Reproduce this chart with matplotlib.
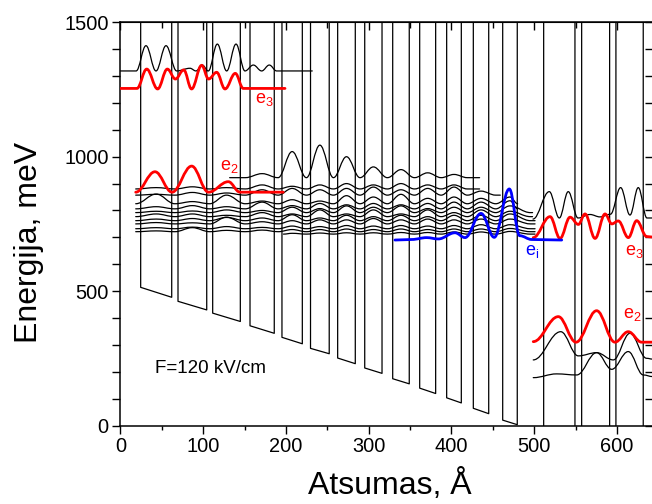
import matplotlib
matplotlib.use('Agg')
import matplotlib.pyplot as plt
from matplotlib.path import Path
from matplotlib.patches import PathPatch
from matplotlib.ticker import MultipleLocator, NullFormatter

plt.rcParams['font.family'] = ['Liberation Sans', 'DejaVu Sans']
plt.rcParams['mathtext.fontset'] = 'custom'
plt.rcParams['mathtext.rm'] = 'Liberation Sans'

# quantum wells: edges (A) and conduction band bottom at the edges (meV)
well_left = [24.5, 69.6, 111.5, 156.6, 195.2, 229.7, 262.5, 295.2, 329.0, 361.6,
             394.2, 426.4, 461.9, 511.4, 557.3, 598.7]
well_right = [62.0, 104.3, 144.9, 185.9, 219.8, 252.3, 283.8, 316.1, 349.0, 380.9,
              411.9, 445.0, 479.5, 549.2, 591.1, 631.7]
bottom_left = [514, 462, 418, 371, 328, 287, 251, 214, 174, 139, 103, 64, 20, -33, -85, -131]
bottom_right = [477, 430, 387, 343, 304, 267, 230, 194, 155, 119, 84, 44, 3, -76, -123, -167]
barrier_top = 1700

# injector states: level (meV), start / end (A), peak height in wells 1..13 (meV)
inj_level = [922, 880, 857, 825, 806, 792, 777, 762, 750, 732, 721, 712]
inj_start = [132, 18.5, 18.5, 18.5, 18.5, 18.5, 18.5, 18.5, 18.5, 18.5, 18.5, 197]
inj_end = [434, 434, 459, 480, 480, 498, 498, 501, 501, 501, 501, 501]
inj_peaks = [
    [0, 0, 0, 15, 97, 121, 78, 40, 30, 18, 12, 0, 0],
    [5, 8, 5, 15, 10, 15, 20, 15, 20, 15, 15, 10, 0],
    [3, 10, 8, 20, 25, 20, 25, 30, 20, 25, 30, 15, 0],
    [36, 8, 32, 10, 15, 10, 30, 25, 35, 20, 25, 20, 25],
    [8, 12, 8, 25, 12, 20, 15, 20, 15, 20, 25, 25, 30],
    [5, 6, 10, 8, 20, 15, 25, 20, 25, 15, 20, 20, 25],
    [10, 10, 5, 15, 10, 25, 10, 25, 10, 25, 15, 25, 20],
    [6, 8, 12, 10, 22, 10, 20, 15, 20, 15, 20, 20, 25],
    [5, 4, 25, 8, 12, 15, 15, 20, 15, 18, 15, 18, 18],
    [4, 6, 8, 5, 10, 8, 12, 10, 12, 10, 12, 15, 15],
    [3, 15, 5, 6, 8, 8, 10, 8, 10, 8, 10, 10, 12],
    [0, 0, 0, 0, 3, 4, 5, 5, 6, 6, 8, 8, 10],
]

# upper state, left (black) and e3 (red)
top_x = [0, 19, 30.9, 43, 55.1, 68, 84.1, 91.3, 98.9, 106.2, 117.1, 128.4, 139.7, 150.5,
         160.6, 170.7, 179.9, 188.8, 231.8]
top_e = [1319, 1319, 1413, 1319, 1413, 1319, 1329, 1319, 1341, 1319, 1419, 1319, 1419, 1319,
         1341, 1319, 1341, 1319, 1319]
e3l_x = [0, 20, 31.8, 45, 56.7, 66.5, 76.5, 86, 98.2, 106.5, 116.3, 126.4, 138.8, 148.5, 198.9]
e3l_e = [1254, 1254, 1326, 1252, 1326, 1289, 1323, 1252, 1340, 1289, 1314, 1252, 1310, 1254, 1254]
# e2, left
e2l_x = [18.5, 41.8, 62.4, 86.1, 106.5, 130.4, 144.5, 196.8]
e2l_e = [868, 944, 868, 965, 868, 907, 868, 868]
# injector ground state ei
ei_x = [331.7, 352, 370.1, 384.1, 404.3, 416.4, 435.7, 451.7, 469.9, 482.5, 497, 533.2]
ei_e = [690, 692, 699, 694, 717, 699, 789, 700, 880, 706, 692, 690]
# active region on the right
e3r_x = [498.8, 519.1, 531.2, 543.3, 553.3, 561.4, 573.5, 585.6, 593.7, 601.6, 613.7, 623.8,
         635.9, 643]
e3r_e = [699, 777, 696, 775, 748, 787, 696, 787, 750, 761, 699, 762, 703, 701]
upr_x = [498.5, 518.2, 530.3, 541.1, 552.9, 567.4, 579.5, 592.1, 604.4, 615.7, 625.7, 636.2, 643]
upr_e = [768, 870, 772, 870, 772, 785, 776, 786, 885, 783, 885, 772, 772]
e2r_x = [498.8, 529.1, 550.5, 575.4, 597.5, 613.6, 629.8, 643]
e2r_e = [312, 405, 310, 427, 310, 349, 310, 310]
lowa_x = [498.8, 532.0, 553.2, 575.4, 595.5, 615.7, 635.8, 643]
lowa_e = [244, 349, 259, 271, 244, 343, 250, 247]
lowb_x = [498.8, 527.1, 551.3, 575.4, 593.6, 613.6, 631.8, 643]
lowb_e = [178, 192, 188, 271, 209, 275, 188, 182]


def wave(ax, xs, es, color, lw):
    # smooth curve through the read extrema, flat tangent at each one
    verts = [(xs[0], es[0])]
    codes = [Path.MOVETO]
    for x0, e0, x1, e1 in zip(xs[:-1], es[:-1], xs[1:], es[1:]):
        d = (x1 - x0) * 0.38
        verts += [(x0 + d, e0), (x1 - d, e1), (x1, e1)]
        codes += [Path.CURVE4] * 3
    ax.add_patch(PathPatch(Path(verts, codes), fill=False, edgecolor=color, lw=lw,
                           joinstyle='round', capstyle='round', zorder=3))


fig = plt.figure(figsize=(6.52, 5.04), dpi=100)
ax = fig.add_axes([120.4 / 652, 78.5 / 504, 532.6 / 652, 403.2 / 504])

for l, r, bl, br in zip(well_left, well_right, bottom_left, bottom_right):
    ax.plot([l, l, r, r], [barrier_top, bl, br, barrier_top], color='black', lw=0.9, zorder=2)

centers = [(l + r) / 2 for l, r in zip(well_left[:13], well_right[:13])]
gaps = [(r + l) / 2 for r, l in zip(well_right[:13], well_left[1:14])]
for level, start, end, peaks in zip(inj_level, inj_start, inj_end, inj_peaks):
    xs, es = [start], [level]
    for c, g, h in zip(centers, gaps, peaks):
        if start < c < end:
            xs.append(c)
            es.append(level + h)
        if start < g < end:
            xs.append(g)
            es.append(level)
    xs.append(end)
    es.append(level)
    wave(ax, xs, es, 'black', 0.9)

wave(ax, top_x, top_e, 'black', 0.9)
wave(ax, upr_x, upr_e, 'black', 0.9)
wave(ax, lowa_x, lowa_e, 'black', 0.9)
wave(ax, lowb_x, lowb_e, 'black', 0.9)
wave(ax, e3l_x, e3l_e, 'red', 2.0)
wave(ax, e2l_x, e2l_e, 'red', 2.0)
wave(ax, e3r_x, e3r_e, 'red', 2.0)
wave(ax, e2r_x, e2r_e, 'red', 2.0)
wave(ax, ei_x, ei_e, 'blue', 2.0)

lab = dict(fontsize=13, ha='left', va='baseline')
ax.text(162.6, 1198, r'$\mathregular{e_3}$', color='red', **lab)
ax.text(120.6, 950, r'$\mathregular{e_2}$', color='red', **lab)
ax.text(489, 634, r'$\mathregular{e_i}$', color='blue', **lab)
ax.text(609.6, 634, r'$\mathregular{e_3}$', color='red', **lab)
ax.text(607, 399, r'$\mathregular{e_2}$', color='red', **lab)
ax.text(41.8, 196, 'F=120 kV/cm', fontsize=13.5, ha='left', va='baseline')

ax.set_xlim(0, 643.5)
ax.set_ylim(0, 1500)
ax.xaxis.set_major_locator(MultipleLocator(100))
ax.xaxis.set_minor_locator(MultipleLocator(50))
ax.yaxis.set_major_locator(MultipleLocator(500))
ax.yaxis.set_minor_locator(MultipleLocator(100))
ax.tick_params(which='both', direction='out', width=1.0, labelsize=14.4, pad=3)
ax.tick_params(which='major', length=5.5)
ax.tick_params(axis='x', which='minor', length=3)
ax.tick_params(axis='y', which='minor', length=5.5)
for s in ax.spines.values():
    s.set_linewidth(1.1)

top = ax.secondary_xaxis('top')
top.xaxis.set_major_locator(MultipleLocator(100))
top.xaxis.set_minor_locator(MultipleLocator(50))
top.tick_params(which='both', direction='in', width=1.0, labeltop=False)
top.tick_params(which='major', length=5.5)
top.tick_params(which='minor', length=4)
top.xaxis.set_major_formatter(NullFormatter())
right = ax.secondary_yaxis('right')
right.yaxis.set_major_locator(MultipleLocator(500))
right.yaxis.set_minor_locator(MultipleLocator(100))
right.tick_params(which='both', direction='in', width=1.0, length=5.5, labelright=False)
right.yaxis.set_major_formatter(NullFormatter())

ax.set_xlabel('Atsumas, Å', fontsize=23)
ax.set_ylabel('Energija, meV', fontsize=23)
ax.xaxis.set_label_coords(0.505, -0.108)
ax.yaxis.set_label_coords(-0.143, 0.454)

fig.savefig('out.png', dpi=100)
